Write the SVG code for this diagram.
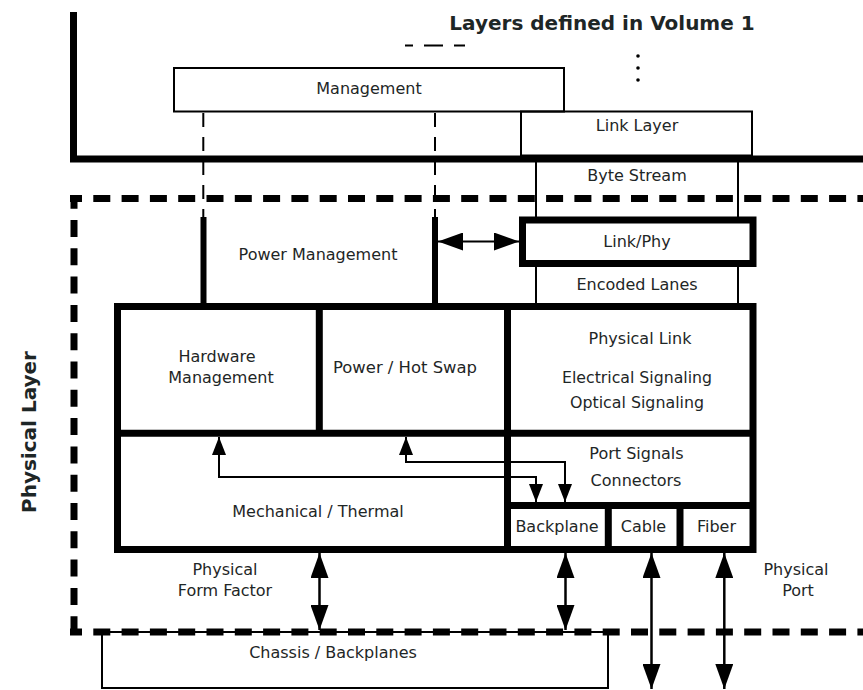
<svg xmlns="http://www.w3.org/2000/svg" width="863" height="690" viewBox="0 0 863 690">
  <defs>
    <style>
      text { font-family: "DejaVu Sans", "Liberation Sans", sans-serif; font-size: 16px; fill: #1e2626; text-anchor: middle; }
      .title { font-weight: bold; font-size: 20px; }
      .thin { fill: none; stroke: #000; stroke-width: 2; }
      .thick { fill: none; stroke: #000; stroke-width: 7; }
      .post { fill: none; stroke: #000; stroke-width: 6; }
      .border { fill: none; stroke: #000; stroke-width: 7; stroke-dasharray: 17 11.3; }
      .mgmt { fill: none; stroke: #000; stroke-width: 2; stroke-dasharray: 14 10; }
      .wire { fill: none; stroke: #000; stroke-width: 2; }
      .bus { fill: none; stroke: #000; stroke-width: 2.5; }
    </style>
    <marker id="headSmall" viewBox="0 0 18 14" refX="18" refY="7" markerWidth="18" markerHeight="14" markerUnits="userSpaceOnUse" orient="auto-start-reverse">
      <path d="M0,0 L18,7 L0,14 Z" fill="#000"/>
    </marker>
    <marker id="headLarge" viewBox="0 0 25 18" refX="25" refY="9" markerWidth="25" markerHeight="18" markerUnits="userSpaceOnUse" orient="auto-start-reverse">
      <path d="M0,0 L25,9 L0,18 Z" fill="#000"/>
    </marker>
  </defs>

  <!-- Volume 1 layers frame -->
  <g id="volume1">
    <path class="thick" d="M73.5,12 V159 H863"/>
    <text class="title" x="602" y="30">Layers defined in Volume 1</text>
    <path class="thin" d="M405,45.5 H413 M424,45.5 H443 M454,45.5 H465"/>
    <circle cx="638" cy="56" r="1.8" fill="#000"/>
    <circle cx="638" cy="68" r="1.8" fill="#000"/>
    <circle cx="638" cy="80" r="1.8" fill="#000"/>
  </g>

  <!-- Physical layer dashed frame -->
  <g id="physical-layer">
    <line class="border" x1="70" y1="198.5" x2="863" y2="198.5" stroke-dashoffset="5"/>
    <line class="border" x1="70" y1="632" x2="863" y2="632" stroke-dashoffset="5"/>
    <line class="border" x1="74" y1="195" x2="74" y2="636" stroke-dashoffset="3.3"/>
    <text class="title" transform="translate(36,432) rotate(-90)">Physical Layer</text>
  </g>

  <g id="management">
    <rect class="thin" x="174" y="68" width="390" height="43.5" fill="#fff"/>
    <text x="369" y="93.5">Management</text>
  </g>

  <g id="link-layer">
    <rect class="thin" x="521" y="111.5" width="231" height="44"/>
    <text x="637" y="131">Link Layer</text>
  </g>

  <g id="byte-stream">
    <path class="thin" d="M536,159 V220 M738,159 V220"/>
    <text x="637" y="181">Byte Stream</text>
  </g>

  <g id="power-management">
    <text x="318" y="260">Power Management</text>
  </g>

  <g id="link-phy">
    <rect class="thick" x="522.5" y="220" width="230.5" height="43.5"/>
    <text x="637" y="247">Link/Phy</text>
  </g>

  <g id="encoded-lanes">
    <path class="thin" d="M536,263.5 V306 M738,263.5 V306"/>
    <text x="637" y="290">Encoded Lanes</text>
  </g>

  <!-- main block with its cells -->
  <g id="main-block">
    <rect class="thick" x="117.5" y="306.5" width="635.5" height="243"/>
    <path class="thick" d="M117.5,433.3 H753 M319.3,306.5 V433.3 M507.5,306.5 V549.5 M507.5,505.5 H753 M608.3,505.5 V549.5 M680,505.5 V549.5"/>
  </g>

  <g id="hardware-management">
    <text x="217" y="362">Hardware</text>
    <text x="221" y="383">Management</text>
  </g>

  <g id="power-hot-swap">
    <text x="405" y="373" textLength="144" lengthAdjust="spacingAndGlyphs">Power / Hot Swap</text>
  </g>

  <g id="physical-link">
    <text x="640" y="344">Physical Link</text>
    <text x="637" y="382.5" textLength="150" lengthAdjust="spacingAndGlyphs">Electrical Signaling</text>
    <text x="637" y="408" textLength="134" lengthAdjust="spacingAndGlyphs">Optical Signaling</text>
  </g>

  <g id="mechanical-thermal">
    <text x="318" y="517">Mechanical / Thermal</text>
  </g>

  <g id="port-signals">
    <text x="636.5" y="459">Port Signals</text>
    <text x="636" y="485.5">Connectors</text>
  </g>

  <g id="backplane">
    <text x="557" y="531.5">Backplane</text>
  </g>

  <g id="cable">
    <text x="643.5" y="531.5">Cable</text>
  </g>

  <g id="fiber">
    <text x="716.5" y="531.5">Fiber</text>
  </g>

  <g id="chassis-backplanes">
    <rect class="thin" x="102" y="632" width="506" height="56"/>
    <text x="333" y="658">Chassis / Backplanes</text>
  </g>

  <g id="labels">
    <text x="225" y="575">Physical</text>
    <text x="225" y="596">Form Factor</text>
    <text x="796" y="575">Physical</text>
    <text x="798" y="596">Port</text>
  </g>

  <!-- connectors -->
  <g id="connectors">
    <path class="mgmt" d="M203.3,112 V217" stroke-dashoffset="-1"/>
    <path class="mgmt" d="M435,112 V217" stroke-dashoffset="-1"/>
    <path class="post" d="M203.5,217 V306"/>
    <path class="post" d="M435,217 V306"/>
    <line class="wire" x1="438" y1="241.5" x2="519" y2="241.5" marker-start="url(#headLarge)" marker-end="url(#headLarge)"/>
    <path class="wire" d="M219,437 V477 H536 V502" marker-start="url(#headSmall)" marker-end="url(#headSmall)"/>
    <path class="wire" d="M406,437 V462 H565 V502" marker-start="url(#headSmall)" marker-end="url(#headSmall)"/>
    <line class="bus" x1="319.5" y1="553" x2="319.5" y2="630" marker-start="url(#headLarge)" marker-end="url(#headLarge)"/>
    <line class="bus" x1="565.5" y1="553" x2="565.5" y2="630" marker-start="url(#headLarge)" marker-end="url(#headLarge)"/>
    <line class="bus" x1="651.5" y1="553" x2="651.5" y2="689" marker-start="url(#headLarge)" marker-end="url(#headLarge)"/>
    <line class="bus" x1="724.3" y1="553" x2="724.3" y2="689" marker-start="url(#headLarge)" marker-end="url(#headLarge)"/>
  </g>
</svg>
